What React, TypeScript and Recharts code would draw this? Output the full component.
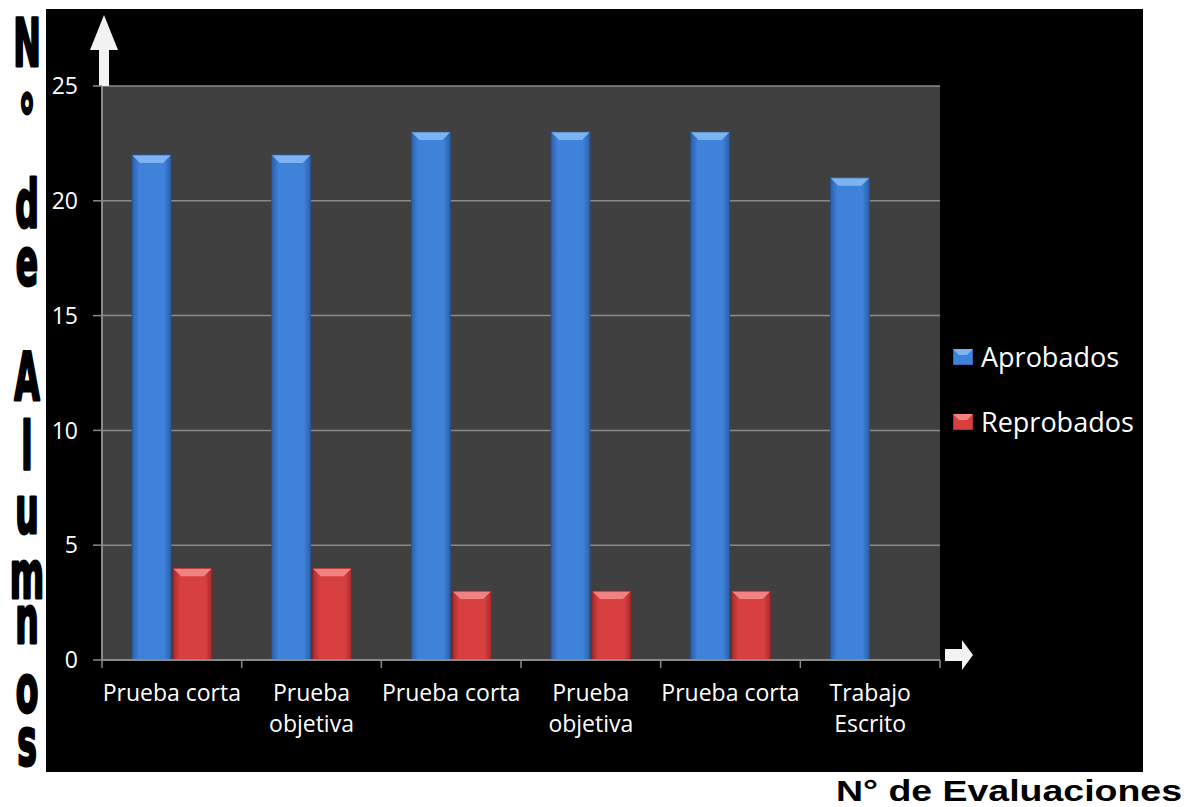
import { BarChart, Bar, XAxis, YAxis, CartesianGrid, Legend } from 'recharts';

// chart values
const categories = [
  'Prueba corta',
  'Prueba\nobjetiva',
  'Prueba corta',
  'Prueba\nobjetiva',
  'Prueba corta',
  'Trabajo\nEscrito',
];
const aprobados = [22, 22, 23, 23, 23, 21];
const reprobados = [4, 4, 3, 3, 3, 0];
const yTicks = [0, 5, 10, 15, 20, 25];

const W = 1192;
const H = 807;
const PLOT = { left: 102, top: 86, right: 940, bottom: 660 };
const Y_AXIS_W = 60;
const X_AXIS_H = 80;
const AXIS_GREY = '#8a8a8a';
const TICK_FONT = "'Open Sans', sans-serif";

const TONES: Record<string, { side: string; mid: string; top: string; edge: string }> = {
  blue: { side: '#2b5faa', mid: '#3f82da', top: '#7cb3f1', edge: '#24508f' },
  red: { side: '#a82a2a', mid: '#d84040', top: '#f08282', edge: '#8a2020' },
};

const data = categories.map((name, i) => ({
  name,
  Aprobados: aprobados[i],
  Reprobados: reprobados[i],
}));

const BevelBar = (props: any) => {
  const { x, y, width, height, tone } = props;
  if (!height || height <= 0) return null;
  const c = TONES[tone];
  const b = Math.min(8, height);
  return (
    <g>
      <rect x={x} y={y} width={width} height={height} fill={`url(#grad-${tone})`} />
      <polygon
        points={`${x},${y} ${x + width},${y} ${x + width - 8},${y + b} ${x + 8},${y + b}`}
        fill={c.top}
      />
      <rect x={x} y={y} width={width} height={height} fill="none" stroke={c.edge} strokeWidth={0.8} />
    </g>
  );
};

const XTick = (props: any) => {
  const { x, payload, index } = props;
  const bw = (PLOT.right - PLOT.left) / categories.length;
  const lines = String(payload.value).split('\n');
  return (
    <g>
      <line x1={x - bw / 2} x2={x - bw / 2} y1={PLOT.bottom} y2={PLOT.bottom + 8} stroke={AXIS_GREY} strokeWidth={1.5} />
      {index === categories.length - 1 ? (
        <line x1={x + bw / 2} x2={x + bw / 2} y1={PLOT.bottom} y2={PLOT.bottom + 8} stroke={AXIS_GREY} strokeWidth={1.5} />
      ) : null}
      <text textAnchor="middle" fill="#ffffff" fontSize={23} fontFamily={TICK_FONT}>
        {lines.map((l, i) => (
          <tspan key={i} x={x} y={701 + i * 31}>
            {l}
          </tspan>
        ))}
      </text>
    </g>
  );
};

const LegendSwatch = ({ tone }: { tone: string }) => {
  const c = TONES[tone];
  return (
    <svg width={20} height={16} style={{ display: 'block' }}>
      <rect x={0} y={0} width={20} height={16} fill={c.mid} stroke={c.edge} strokeWidth={1} />
      <polygon points="0,0 20,0 14,6 6,6" fill={c.top} />
    </svg>
  );
};

const LegendContent = (props: any) => {
  const { payload } = props;
  return (
    <div>
      {(payload || []).map((p: any) => (
        <div
          key={p.value}
          style={{ display: 'flex', alignItems: 'center', height: 37, marginBottom: 28 }}
        >
          <LegendSwatch tone={p.value === 'Aprobados' ? 'blue' : 'red'} />
          <span
            style={{
              marginLeft: 8,
              fontSize: 27,
              lineHeight: '37px',
              color: '#ffffff',
              fontFamily: TICK_FONT,
            }}
          >
            {p.value}
          </span>
        </div>
      ))}
    </div>
  );
};

// vertical title, one glyph per row ("N° de Alumnos"); baselines per character
const Y_TITLE = 'N° de Alumnos';
const Y_TITLE_ROWS = [66, 142, 160, 227, 285, 330, 400, 469, 533, 598, 643, 712, 765];

const Decorations = () => (
  <g>
    <text
      transform="translate(27,0) scale(0.5,1)"
      x={Y_TITLE_ROWS.map(() => 0).join(' ')}
      y={Y_TITLE_ROWS.join(' ')}
      fontFamily="'DejaVu Sans', sans-serif"
      fontWeight="bold"
      fontSize={66}
      fill="#000"
      stroke="#000"
      strokeWidth={3}
      strokeLinejoin="round"
      textAnchor="middle"
    >
      {Y_TITLE}
    </text>
    <text
      x={836}
      y={801}
      fontFamily="'Liberation Sans', Arial, sans-serif"
      fontWeight="bold"
      fontSize={30}
      fill="#000"
      textLength={346}
      lengthAdjust="spacingAndGlyphs"
    >
      N° de Evaluaciones
    </text>
    <polygon points="104,15 118,50 109,50 109,86 99,86 99,50 90,50" fill="#f2f2f2" />
    <polygon points="945,649 962,649 962,640 973,655 962,670 962,661 945,661" fill="#f2f2f2" />
  </g>
);

export default function App() {
  return (
    <div style={{ position: 'absolute', left: 0, top: 0, width: W, height: H, background: '#ffffff' }}>
      <div
        style={{ position: 'absolute', left: 46, top: 9, width: 1097, height: 763, background: '#000000' }}
      />
      <div style={{ position: 'absolute', left: 0, top: 0 }}>
        <BarChart
          width={W}
          height={H}
          data={data}
          barSize={39}
          barGap={2}
          margin={{
            top: PLOT.top,
            right: W - PLOT.right,
            bottom: H - PLOT.bottom - X_AXIS_H,
            left: PLOT.left - Y_AXIS_W,
          }}
        >
          <defs>
            {Object.keys(TONES).map((k) => (
              <linearGradient key={k} id={`grad-${k}`} x1="0" y1="0" x2="1" y2="0">
                <stop offset="0" stopColor={TONES[k].side} />
                <stop offset="0.18" stopColor={TONES[k].mid} />
                <stop offset="0.82" stopColor={TONES[k].mid} />
                <stop offset="1" stopColor={TONES[k].side} />
              </linearGradient>
            ))}
          </defs>
          <CartesianGrid vertical={false} stroke={AXIS_GREY} strokeWidth={1.5} fill="#404040" fillOpacity={1} />
          <XAxis
            dataKey="name"
            height={X_AXIS_H}
            tick={<XTick />}
            tickLine={false}
            axisLine={{ stroke: AXIS_GREY, strokeWidth: 2 }}
            interval={0}
          />
          <YAxis
            width={Y_AXIS_W}
            domain={[0, 25]}
            ticks={yTicks}
            tickSize={9}
            tickMargin={15}
            tick={{ fill: '#ffffff', fontSize: 23, fontFamily: TICK_FONT }}
            tickLine={{ stroke: AXIS_GREY, strokeWidth: 1.5 }}
            axisLine={{ stroke: AXIS_GREY, strokeWidth: 2 }}
          />
          <Legend
            layout="vertical"
            align="center"
            verticalAlign="middle"
            content={<LegendContent />}
            wrapperStyle={{ left: 953, top: 338, width: 'auto' }}
          />
          <Bar
            dataKey="Aprobados"
            fill={TONES.blue.mid}
            isAnimationActive={false}
            shape={(p: any) => <BevelBar {...p} tone="blue" />}
          />
          <Bar
            dataKey="Reprobados"
            fill={TONES.red.mid}
            isAnimationActive={false}
            shape={(p: any) => <BevelBar {...p} tone="red" />}
          />
          <Decorations />
        </BarChart>
      </div>
    </div>
  );
}
